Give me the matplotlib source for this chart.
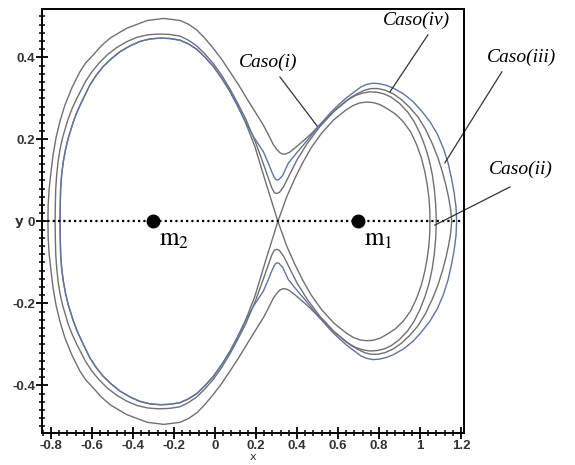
import matplotlib
matplotlib.use("Agg")
import matplotlib.pyplot as plt
from matplotlib.ticker import MultipleLocator

# Zero-velocity curves (upper halves; the lower halves are their mirror images)
case_i_x = [-0.756, -0.755, -0.753, -0.748, -0.740, -0.729, -0.716, -0.691, -0.672, -0.650,
            -0.610, -0.580, -0.545, -0.505, -0.463, -0.415, -0.366, -0.317, -0.268, -0.220,
            -0.171, -0.130, -0.089, -0.050, -0.008, 0.033, 0.073, 0.110, 0.146, 0.195,
            0.244, 0.307,
            0.350, 0.390, 0.430, 0.470, 0.520, 0.580, 0.640, 0.675, 0.707, 0.740,
            0.770, 0.805, 0.837, 0.880, 0.919, 0.955, 0.984, 1.007, 1.024, 1.036,
            1.044, 1.048, 1.049]
case_i_y = [0.000, 0.040, 0.081, 0.115, 0.146, 0.176, 0.203, 0.243, 0.268, 0.292,
            0.333, 0.356, 0.378, 0.397, 0.414, 0.428, 0.439, 0.445, 0.447, 0.446,
            0.442, 0.433, 0.420, 0.401, 0.378, 0.349, 0.317, 0.282, 0.245, 0.182,
            0.101, 0.000,
            0.060, 0.105, 0.145, 0.180, 0.215, 0.248, 0.272, 0.283, 0.289, 0.291,
            0.290, 0.285, 0.276, 0.262, 0.243, 0.218, 0.187, 0.155, 0.121, 0.088,
            0.057, 0.028, 0.000]

case_ii_x = [-0.780, -0.779, -0.777, -0.772, -0.765, -0.755, -0.742, -0.717, -0.698, -0.676,
             -0.633, -0.602, -0.566, -0.526, -0.482, -0.432, -0.380, -0.328, -0.275, -0.222,
             -0.171, -0.130, -0.089, -0.050, -0.008, 0.033, 0.073, 0.112, 0.150, 0.200,
             0.240, 0.262, 0.278, 0.290, 0.302, 0.315, 0.335, 0.360, 0.400, 0.450,
             0.510, 0.580, 0.650, 0.685, 0.720, 0.755, 0.790, 0.825, 0.860, 0.900,
             0.940, 0.972, 1.000, 1.025, 1.045, 1.060, 1.070, 1.077, 1.080]
case_ii_y = [0.000, 0.040, 0.080, 0.115, 0.148, 0.179, 0.207, 0.249, 0.274, 0.298,
             0.340, 0.364, 0.386, 0.406, 0.423, 0.438, 0.449, 0.455, 0.457, 0.456,
             0.452, 0.442, 0.428, 0.409, 0.385, 0.356, 0.323, 0.287, 0.250, 0.190,
             0.135, 0.103, 0.081, 0.070, 0.068, 0.071, 0.085, 0.110, 0.150, 0.190,
             0.230, 0.268, 0.297, 0.307, 0.313, 0.316, 0.315, 0.311, 0.303, 0.288,
             0.267, 0.243, 0.215, 0.183, 0.150, 0.115, 0.080, 0.040, 0.000]

case_iii_x = [-0.756, -0.755, -0.753, -0.748, -0.740, -0.729, -0.716, -0.691, -0.672, -0.650,
              -0.610, -0.580, -0.545, -0.505, -0.463, -0.415, -0.366, -0.317, -0.268, -0.220,
              -0.171, -0.130, -0.089, -0.050, -0.008, 0.033, 0.073, 0.110, 0.146, 0.190,
              0.236, 0.262, 0.277, 0.290, 0.300, 0.312, 0.330, 0.358, 0.400, 0.439,
              0.480, 0.520, 0.560, 0.602, 0.643, 0.683, 0.712, 0.740, 0.770, 0.800,
              0.835, 0.870, 0.920, 0.967, 1.010, 1.049, 1.085, 1.114, 1.137, 1.154,
              1.167, 1.176, 1.179]
case_iii_y = [0.000, 0.040, 0.081, 0.115, 0.146, 0.176, 0.203, 0.243, 0.268, 0.292,
              0.333, 0.356, 0.378, 0.397, 0.414, 0.428, 0.439, 0.445, 0.447, 0.446,
              0.442, 0.433, 0.420, 0.401, 0.378, 0.349, 0.317, 0.282, 0.245, 0.205,
              0.170, 0.140, 0.121, 0.107, 0.101, 0.102, 0.112, 0.142, 0.168, 0.191,
              0.216, 0.240, 0.263, 0.284, 0.302, 0.317, 0.328, 0.334, 0.337, 0.336,
              0.332, 0.325, 0.311, 0.292, 0.268, 0.243, 0.213, 0.179, 0.143, 0.105,
              0.070, 0.035, 0.000]

case_iv_x = [-0.815, -0.814, -0.809, -0.800, -0.790, -0.776, -0.756, -0.732, -0.699, -0.659,
             -0.630, -0.594, -0.555, -0.512, -0.431, -0.330, -0.250, -0.171, -0.130, -0.089,
             -0.050, -0.008, 0.033, 0.073, 0.115, 0.155, 0.196, 0.236, 0.262, 0.285,
             0.302, 0.318, 0.333, 0.348, 0.365, 0.390, 0.430, 0.472, 0.512, 0.553,
             0.592, 0.630, 0.665, 0.700, 0.730, 0.760, 0.795, 0.830, 0.870, 0.910,
             0.950, 0.990, 1.027, 1.060, 1.088, 1.110, 1.127, 1.140, 1.150, 1.155]
case_iv_y = [0.000, 0.040, 0.080, 0.121, 0.162, 0.203, 0.245, 0.284, 0.325, 0.365,
             0.387, 0.406, 0.428, 0.447, 0.471, 0.490, 0.495, 0.490, 0.481, 0.467,
             0.447, 0.422, 0.395, 0.365, 0.333, 0.300, 0.267, 0.235, 0.210, 0.187,
             0.175, 0.167, 0.164, 0.165, 0.169, 0.179, 0.196, 0.215, 0.236, 0.256,
             0.274, 0.290, 0.303, 0.313, 0.320, 0.324, 0.324, 0.320, 0.311, 0.297,
             0.278, 0.255, 0.225, 0.190, 0.155, 0.120, 0.088, 0.058, 0.028, 0.000]

# Primaries
mass_x = [0.7, -0.3]
mass_labels = [r"$\mathrm{m}_1$", r"$\mathrm{m}_2$"]

x_ticks = [-0.8, -0.6, -0.4, -0.2, 0.0, 0.2, 0.4, 0.6, 0.8, 1.0, 1.2]
x_tick_labels = ["-0.8", "-0.6", "-0.4", "-0.2", "0", "0.2", "0.4", "0.6", "0.8", "1", "1.2"]
y_ticks = [-0.4, -0.2, 0.0, 0.2, 0.4]
y_tick_labels = ["-0.4", "-0.2", "0", "0.2", "0.4"]

plt.rcParams["mathtext.fontset"] = "stix"

fig = plt.figure(figsize=(5.75, 4.65), dpi=100)
ax = fig.add_axes([42 / 575, 1 - 433 / 465, 422 / 575, 424 / 465])
ax.set_xlim(-0.844, 1.215)
ax.set_ylim(-0.516, 0.518)

grey = "#707070"
blue = "#6372a6"

for cx, cy, col in [(case_i_x, case_i_y, grey),
                    (case_ii_x, case_ii_y, grey),
                    (case_iv_x, case_iv_y, grey),
                    (case_iii_x, case_iii_y, blue)]:
    ax.plot(cx, cy, color=col, lw=1.0, solid_joinstyle="round")
    ax.plot(cx, [-v for v in cy], color=col, lw=1.0, solid_joinstyle="round")

# x axis between the primaries
ax.axhline(0, color="black", lw=1.6, linestyle=(0, (1, 1.4)))
ax.plot(mass_x, [0, 0], "o", color="black", markersize=9, zorder=5)
for mx, lab in zip(mass_x, mass_labels):
    ax.text(mx + 0.028, -0.06, lab, fontsize=18, ha="left", va="baseline")

# Case labels with leader lines
serif = dict(family="Liberation Serif", style="italic", fontsize=14)
labels = [("Caso(i)", 0.259, 0.389, (0.317, 0.498), (0.352, 0.233)),
          ("Caso(iv)", 0.985, 0.491, (1.039, 0.854), (0.455, 0.316)),
          ("Caso(iii)", 1.498, 0.401, (1.400, 1.122), (0.365, 0.143)),
          ("Caso(ii)", 1.493, 0.128, (1.439, 1.073), (0.084, -0.009))]
for txt, tx, ty, lx, ly in labels:
    ax.text(tx, ty, txt, ha="center", va="center", clip_on=False, **serif)
    ax.plot(lx, ly, color="#333333", lw=0.9, clip_on=False)

ax.set_xticks(x_ticks)
ax.set_xticklabels(x_tick_labels)
ax.set_yticks(y_ticks)
ax.set_yticklabels(y_tick_labels)
ax.xaxis.set_minor_locator(MultipleLocator(0.04))
ax.yaxis.set_minor_locator(MultipleLocator(0.02))
ax.tick_params(which="major", direction="inout", length=8, width=1.3, color="black",
               labelsize=9.5, labelcolor="#333333", pad=1)
ax.tick_params(which="minor", direction="inout", length=5, width=1.1, color="black")
for lab in ax.get_xticklabels() + ax.get_yticklabels():
    lab.set_fontweight("bold")
    lab.set_family("Liberation Sans")

ax.set_xlabel("x", fontsize=8, color="#333333", labelpad=0)
ax.set_ylabel("y", fontsize=9.5, fontweight="bold", color="#333333", rotation=0,
              va="center", ha="center")
ax.yaxis.set_label_coords(-0.055, 0.5)

for s in ax.spines.values():
    s.set_linewidth(1.4)

fig.savefig("out.png", dpi=100)
